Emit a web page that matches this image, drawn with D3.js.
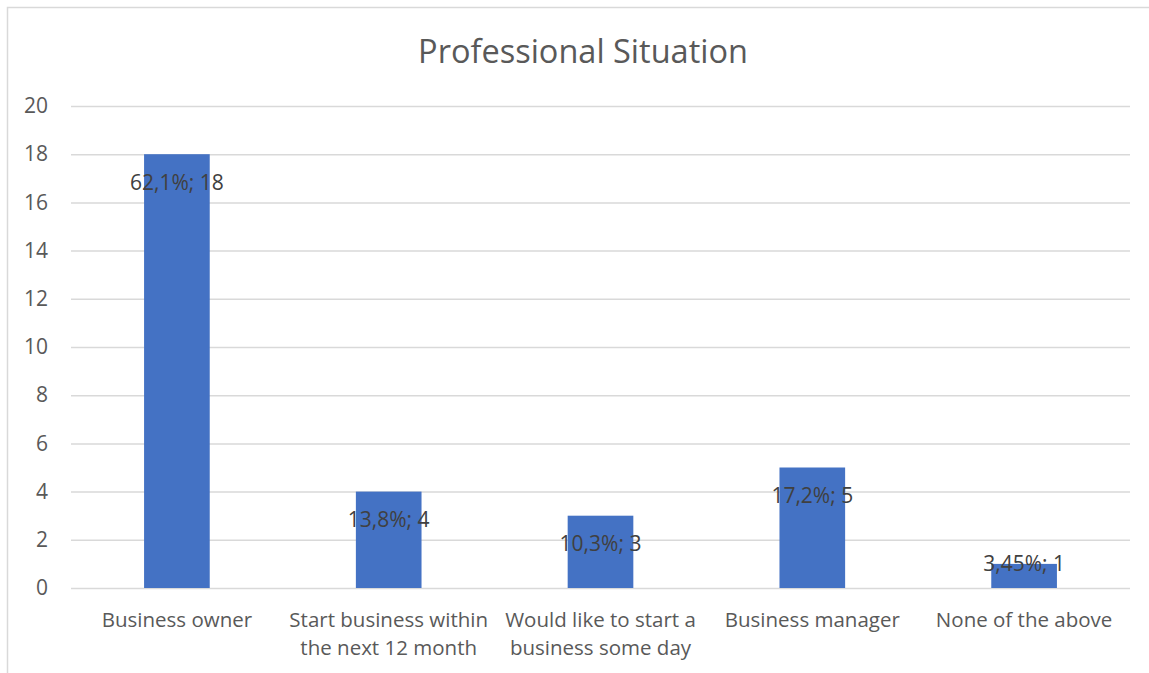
<!DOCTYPE html>
<html>
<head>
<meta charset="utf-8">
<script src="https://cdn.jsdelivr.net/npm/d3@7/dist/d3.min.js"></script>
<style>
  html, body { margin: 0; padding: 0; background: #fff; }
  svg { display: block; }
  text { font-family: "Open Sans", "Noto Sans", sans-serif; }
</style>
</head>
<body>
<svg id="chart" width="1149" height="673"></svg>
<script>
// Survey results: professional situation of respondents
const chartTitle = "Professional Situation";
const categories = [
  ["Business owner"],
  ["Start business within", "the next 12 month"],
  ["Would like to start a", "business some day"],
  ["Business manager"],
  ["None of the above"]
];
const counts = [18, 4, 3, 5, 1];
const percentLabels = ["62,1%", "13,8%", "10,3%", "17,2%", "3,45%"];
const yTicks = [0, 2, 4, 6, 8, 10, 12, 14, 16, 18, 20];

const svg = d3.select("#chart");
const W = 1149, H = 673;
const plot = { left: 71, right: 1130, top: 106, bottom: 588 };

// chart frame
svg.append("rect")
  .attr("x", 7.5).attr("y", 7.5)
  .attr("width", W + 20).attr("height", H + 20)
  .attr("fill", "#fff").attr("stroke", "#d9d9d9").attr("stroke-width", 1.5);

const x = d3.scaleBand()
  .domain(d3.range(categories.length))
  .range([plot.left, plot.right])
  .paddingInner(0.69).paddingOuter(0.345);

const y = d3.scaleLinear().domain([0, 20]).range([plot.bottom, plot.top]);

// gridlines and value axis labels
const yAxis = d3.axisLeft(y).tickValues(yTicks).tickSize(-(plot.right - plot.left)).tickPadding(23);
const gy = svg.append("g").attr("transform", `translate(${plot.left},0)`).call(yAxis);
gy.select(".domain").remove();
gy.selectAll(".tick line").attr("stroke", "#d9d9d9").attr("stroke-width", 1.5);
gy.selectAll(".tick text")
  .attr("fill", "#595959").attr("font-size", 21)
  .style("font-family", '"Open Sans", sans-serif');

// bars
svg.append("g").selectAll("rect")
  .data(counts)
  .join("rect")
  .attr("x", (d, i) => x(i))
  .attr("y", d => y(d))
  .attr("width", x.bandwidth())
  .attr("height", d => y(0) - y(d))
  .attr("fill", "#4472c4");

// data labels: percentage; count
svg.append("g").selectAll("text")
  .data(counts)
  .join("text")
  .attr("x", (d, i) => x(i) + x.bandwidth() / 2)
  .attr("y", d => (y(0) - y(d) > 40 ? y(d) + 28 : y(d)))
  .attr("dy", "0.35em")
  .attr("text-anchor", "middle")
  .attr("fill", "#404040")
  .attr("font-size", 21)
  .text((d, i) => `${percentLabels[i]}; ${d}`);

// category labels
const gx = svg.append("g");
categories.forEach((lines, i) => {
  const cx = x(i) + x.bandwidth() / 2;
  const t = gx.append("text")
    .attr("x", cx)
    .attr("y", 627)
    .attr("text-anchor", "middle")
    .attr("fill", "#595959")
    .attr("font-size", 20.5);
  lines.forEach((ln, j) => {
    t.append("tspan").attr("x", cx).attr("dy", j === 0 ? 0 : 28).text(ln);
  });
});

// title
svg.append("text")
  .attr("x", 583).attr("y", 63)
  .attr("text-anchor", "middle")
  .attr("fill", "#595959")
  .attr("font-size", 32.5)
  .text(chartTitle);
</script>
</body>
</html>
